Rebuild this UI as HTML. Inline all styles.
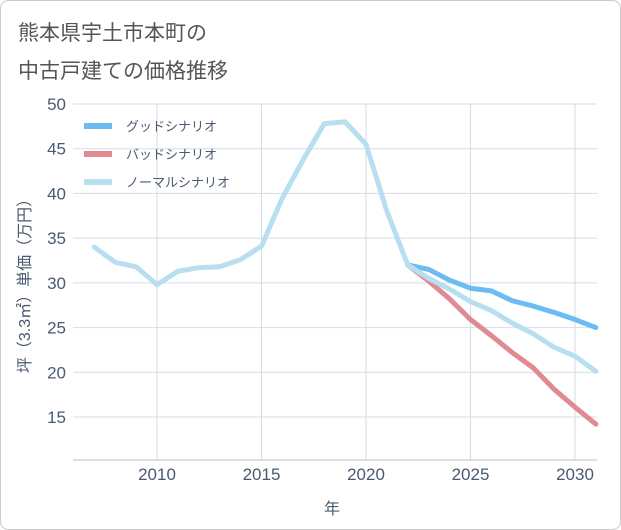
<!DOCTYPE html>
<html><head><meta charset="utf-8"><style>
body{margin:0;background:#fff;}
.wrap{width:621px;height:530px;position:relative;font-family:"Liberation Sans","Noto Sans CJK JP",sans-serif;}
</style></head><body>
<div class="wrap">
<svg id="chart" width="621" height="530" style="position:absolute;left:0;top:0">
<rect x="0.5" y="0.5" width="620" height="529" rx="8" fill="#fff" stroke="#ccc"/>
<text x="18" y="40" font-size="21" fill="#555">熊本県宇土市本町の</text>
<text x="18" y="78" font-size="21" fill="#555">中古戸建ての価格推移</text>
<g id="grid"></g>
<g id="series"></g>
<g id="legend"></g>
<text x="332" y="514" font-size="16" fill="#4a5a70" text-anchor="middle">年</text>
<text transform="translate(30,282) rotate(-90)" font-size="16" fill="#4a5a70" text-anchor="middle">坪（3.3㎡）単価（万円）</text>
</svg>
</div>
<script>
const years=[2007,2008,2009,2010,2011,2012,2013,2014,2015,2016,2017,2018,2019,2020,2021,2022,2023,2024,2025,2026,2027,2028,2029,2030,2031];
const normalValues=[34,32.3,31.8,29.8,31.3,31.7,31.8,32.6,34.1,39.5,43.8,47.8,48,45.5,38,32,30.5,29.3,27.9,26.9,25.5,24.3,22.8,21.8,20.1];
const futureYears=[2022,2023,2024,2025,2026,2027,2028,2029,2030,2031];
const goodValues=[32,31.5,30.3,29.4,29.1,28,27.4,26.7,25.9,25];
const badValues=[32,30.2,28.2,25.9,24.1,22.2,20.5,18.1,16.1,14.2];
const yTicks=[15,20,25,30,35,40,45,50];
const xTicks=[2010,2015,2020,2025,2030];
const NS="http://www.w3.org/2000/svg";
const L=73,R=597,T=104,B=460;
function xs(v){return 157+(v-2010)*(575-157)/20;}
function ys(v){return 417-(v-15)*(417-104)/35;}
function mk(tag,attrs,parent){const e=document.createElementNS(NS,tag);for(const k in attrs)e.setAttribute(k,attrs[k]);parent.appendChild(e);return e;}
const grid=document.getElementById('grid');
yTicks.forEach(v=>{
 const l=mk('line',{x1:L,x2:R,y1:ys(v),y2:ys(v),stroke:'#d6dde6','stroke-width':1},grid);
 
 
 const t=mk('text',{x:66,y:ys(v)+6,'font-size':17,fill:'#4a5a70','text-anchor':'end'},grid);
 t.textContent=v;
 
 
});
xTicks.forEach(v=>{
 const l=mk('line',{x1:xs(v),x2:xs(v),y1:T,y2:B,stroke:'#d6dde6','stroke-width':1},grid);
 
 
 const t=mk('text',{x:xs(v),y:480,'font-size':17,fill:'#4a5a70','text-anchor':'middle'},grid);
 t.textContent=v;
 
 
});
const ax=mk('line',{x1:L,x2:R,y1:B,y2:B,stroke:'#b8c2ce','stroke-width':1},grid);


const ser=document.getElementById('series');
function line(xv,yv,color,name){
 const p=mk('polyline',{points:xv.map((x,i)=>xs(x)+','+ys(yv[i])).join(' '),fill:'none',stroke:color,'stroke-width':5,'stroke-linejoin':'round','stroke-linecap':'round'},ser);
 
 
}
line(futureYears,goodValues,'#6bbcf2','good-scenario-line');
line(futureYears,badValues,'#e08a93','bad-scenario-line');
line(years,normalValues,'#b8dff0','normal-scenario-line');
const lg=document.getElementById('legend');
[['グッドシナリオ','#6bbcf2','good'],['バッドシナリオ','#e08a93','bad'],['ノーマルシナリオ','#b8dff0','normal']].forEach((d,i)=>{
 const y=126+i*28;
 const l=mk('line',{x1:84,x2:112,y1:y,y2:y,stroke:d[1],'stroke-width':6},lg);
 
 
 const t=mk('text',{x:126,y:y+5,'font-size':13,fill:'#4a5a70'},lg);
 t.textContent=d[0];
 
 
});
</script>
</body></html>
